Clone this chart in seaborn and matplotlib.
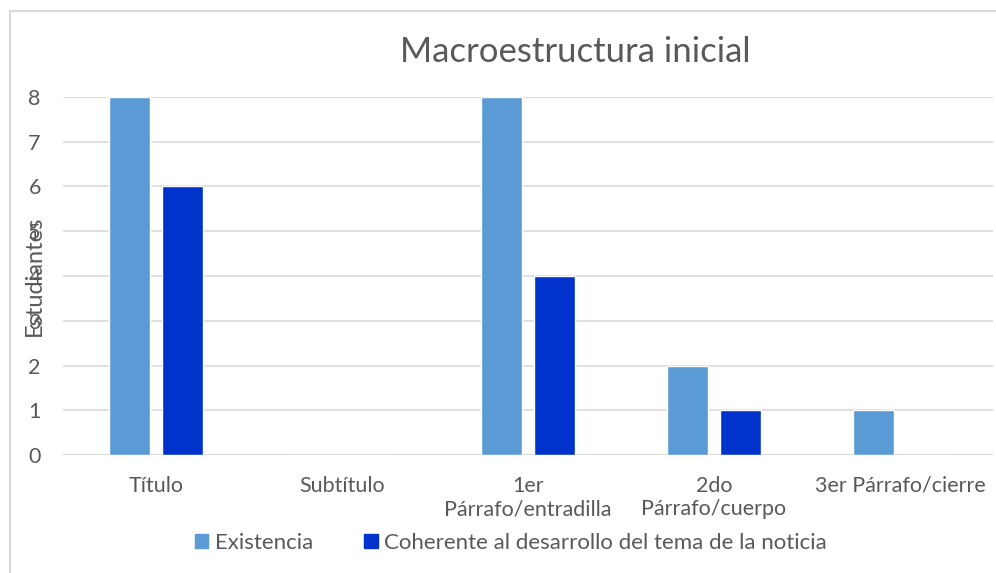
import matplotlib
matplotlib.use('Agg')
import matplotlib.pyplot as plt
import pandas as pd
import seaborn as sns
from matplotlib.patches import Rectangle

# datos
categorias = ['Título', 'Subtítulo', '1er\nPárrafo/entradilla', '2do\nPárrafo/cuerpo', '3er Párrafo/cierre']
existencia = [8, 0, 8, 2, 1]
coherente = [6, 0, 4, 1, 0]
series = ['Existencia', 'Coherente al desarrollo del tema de la noticia']
colores = ['#5B9BD5', '#0033CC']

df = pd.DataFrame({
    'categoria': categorias * 2,
    'valor': existencia + coherente,
    'serie': [series[0]] * len(categorias) + [series[1]] * len(categorias),
})

sns.set_style('white')
plt.rcParams['font.family'] = ['Lato', 'DejaVu Sans']
gris = '#595959'
tam = 15.5

fig = plt.figure(figsize=(9.96, 5.73), dpi=100)
ax = fig.add_axes([63 / 996, 1 - 455 / 573, (993 - 63) / 996, (455 - 97) / 573])

sns.barplot(data=df, x='categoria', y='valor', hue='serie', palette=colores,
            width=0.575, gap=0.235, ax=ax, legend=False, saturation=1)

ax.set_ylim(0, 8)
ax.set_yticks(range(0, 9))
ax.yaxis.grid(True, color='#d9d9d9', linewidth=1.2)
ax.set_axisbelow(True)
for s in ax.spines.values():
    s.set_visible(False)
ax.axhline(0, color='#d9d9d9', linewidth=1.5, zorder=0)

ax.tick_params(axis='y', length=0, pad=16, labelsize=tam, labelcolor=gris)
ax.tick_params(axis='x', length=0, pad=15, labelsize=tam, labelcolor=gris)
ax.set_xlabel('')
# en el original el titulo del eje queda encima de los numeros
ax.set_ylabel('Estudiantes', fontsize=17, color=gris)
ax.yaxis.set_label_coords(-0.019, 0.5)

fig.text(575 / 996, 1 - 52 / 573, 'Macroestructura inicial', ha='center', va='center',
         fontsize=25, color=gris)

handles = [Rectangle((0, 0), 1, 1, color=c) for c in colores]
fig.legend(handles, series, loc='center', bbox_to_anchor=(511 / 996, 1 - 543 / 573),
           ncol=2, frameon=False, fontsize=16, labelcolor=gris,
           handlelength=0.6, handleheight=0.6, handletextpad=0.3, columnspacing=2.3)

# borde del area del grafico
fig.add_artist(Rectangle((10 / 996, -0.1), 1.2, 1 - 11 / 573 + 0.1,
                         transform=fig.transFigure, fill=False,
                         edgecolor='#d9d9d9', linewidth=1.5))

fig.savefig('out.png', dpi=100)
